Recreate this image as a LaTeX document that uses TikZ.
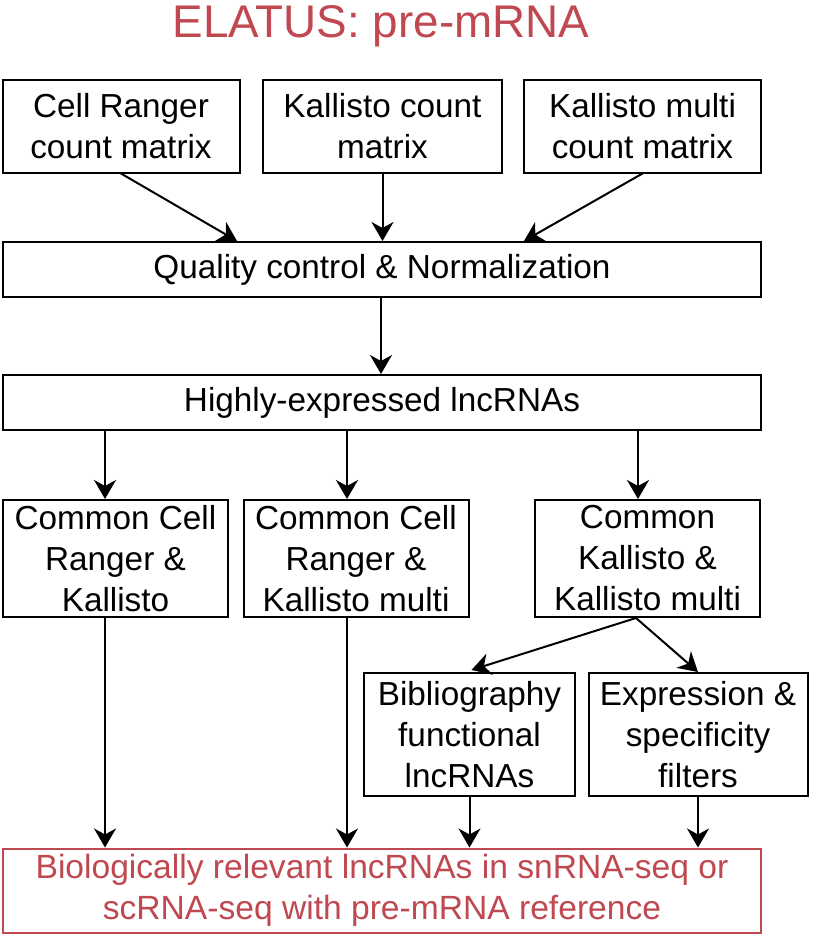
\documentclass[tikz,border=0pt]{standalone}
\usepackage{fontspec}
\setmainfont{Liberation Sans}
\usetikzlibrary{arrows.meta,calc}
\definecolor{elred}{RGB}{192,72,80}
\begin{document}
\begin{tikzpicture}[x=1pt,y=-1pt,
  box/.style={draw=black, line width=2pt, align=center, inner sep=0pt,
    font=\fontsize{33.3}{41}\selectfont},
  redbox/.style={draw=elred, line width=2pt, align=center, inner sep=0pt,
    text=elred, font=\fontsize{33.6}{41}\selectfont},
  arr/.style={line width=2pt, -{Stealth[length=19pt,width=22pt,inset=6pt]}}
]
\useasboundingbox (0,0) rectangle (814,940);
\fill[white] (0,0) rectangle (814,940);

\node[text=elred, font=\fontsize{45.8}{54}\selectfont] (title) at (381,26) {ELATUS: pre-mRNA};

\node[box, minimum width=237pt, minimum height=93pt] (cr) at (121,126) {Cell Ranger\\count matrix};
\node[box, minimum width=239pt, minimum height=93pt] (kc) at (382.5,126) {Kallisto count\\matrix};
\node[box, minimum width=237pt, minimum height=93pt] (km) at (642.5,126) {Kallisto multi\\count matrix};

\node[box, minimum width=758pt, minimum height=55pt] (qc) at (382,269.5) {Quality control \& Normalization};
\node[box, minimum width=758pt, minimum height=55pt] (hl) at (382,402.5) {Highly-expressed lncRNAs};

\node[box, minimum width=225pt, minimum height=117pt] (c1) at (115.5,558.5) {Common Cell\\Ranger \&\\Kallisto};
\node[box, minimum width=225pt, minimum height=117pt] (c2) at (356,558.5) {Common Cell\\Ranger \&\\Kallisto multi};
\node[box, minimum width=225pt, minimum height=117pt] (c3) at (647.5,558.5) {Common\\Kallisto \&\\Kallisto multi};

\node[box, minimum width=211pt, minimum height=123pt] (bib) at (469.5,734.5) {Bibliography\\functional\\lncRNAs};
\node[box, minimum width=219pt, minimum height=123pt] (exp) at (698,734.5) {Expression \&\\specificity\\filters};

\node[redbox, minimum width=758pt, minimum height=84pt] (bio) at (382,890.5) {Biologically relevant lncRNAs in snRNA-seq or\\scRNA-seq with pre-mRNA reference};

% connectors
\draw[arr] (cr.south) -- (237,0 |- qc.north);
\draw[arr] (kc.south) -- (kc.south |- qc.north);
\draw[arr] (km.south) -- (524,0 |- qc.north);
\draw[arr] (381,0 |- qc.south) -- (381,0 |- hl.north);
\draw[arr] (105,0 |- hl.south) -- (105,0 |- c1.north);
\draw[arr] (347,0 |- hl.south) -- (347,0 |- c2.north);
\draw[arr] (638,0 |- hl.south) -- (638,0 |- c3.north);
\coordinate (c3out) at (636,0 |- c3.south);
\draw[arr] (c3out) -- ($(bib.north)+(2,-2)$);
\draw[arr] (c3out) -- (exp.north);
\draw[arr] (105,0 |- c1.south) -- (105,0 |- bio.north);
\draw[arr] (347,0 |- c2.south) -- (347,0 |- bio.north);
\draw[arr] (bib.south) -- (bib.south |- bio.north);
\draw[arr] (exp.south) -- (exp.south |- bio.north);
\end{tikzpicture}
\end{document}
